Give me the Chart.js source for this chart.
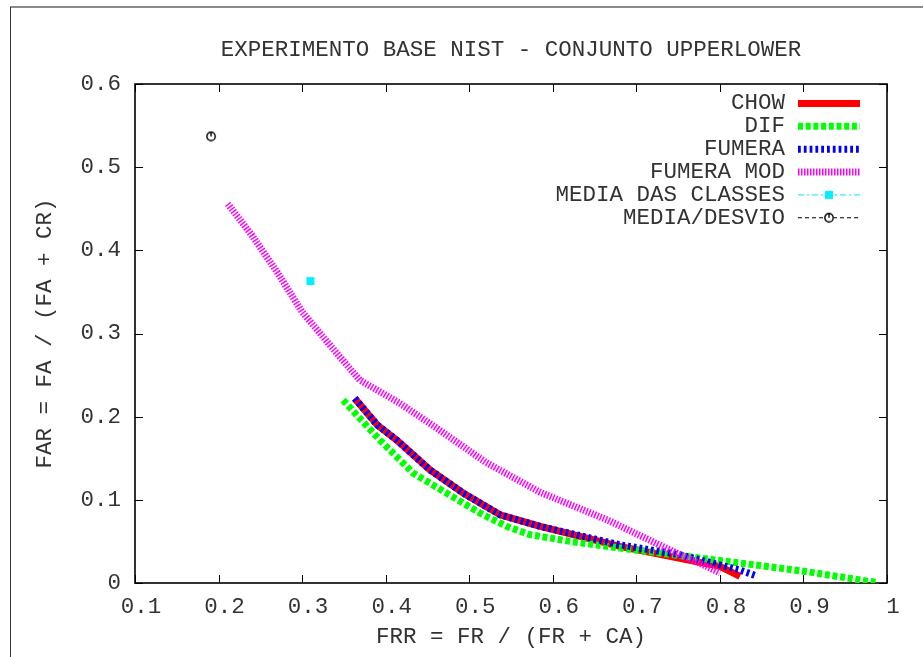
<!DOCTYPE html>
<html><head><meta charset="utf-8">
<script src="https://cdn.jsdelivr.net/npm/chart.js@4"></script>
<style>html,body{margin:0;padding:0;background:#fff}#wrap{width:923px;height:657px}</style>
</head><body><div id="wrap"><canvas id="c" width="923" height="657"></canvas></div>
<script>
// ---- text ----
const titleText = 'EXPERIMENTO BASE NIST - CONJUNTO UPPERLOWER';
const xAxisTitle = 'FRR = FR / (FR + CA)';
const yAxisTitle = 'FAR = FA / (FA + CR)';
const seriesNames = ['CHOW', 'DIF', 'FUMERA', 'FUMERA MOD', 'MEDIA DAS CLASSES', 'MEDIA/DESVIO'];
const xTickLabels = ['0.1', '0.2', '0.3', '0.4', '0.5', '0.6', '0.7', '0.8', '0.9', '1'];
const yTickLabels = ['0', '0.1', '0.2', '0.3', '0.4', '0.5', '0.6'];

// ---- data ----
const chowX = [0.363, 0.390, 0.413, 0.453, 0.493, 0.537, 0.585, 0.680, 0.800, 0.824];
const chowY = [0.222, 0.190, 0.172, 0.136, 0.108, 0.082, 0.068, 0.044, 0.020, 0.008];

const difX = [0.349, 0.393, 0.433, 0.473, 0.513, 0.545, 0.573, 0.621, 0.680, 0.760, 0.848, 0.904, 0.989];
const difY = [0.220, 0.172, 0.132, 0.108, 0.084, 0.068, 0.058, 0.050, 0.042, 0.032, 0.021, 0.0136, 0.0004];

const fumeraX = [0.363, 0.390, 0.413, 0.453, 0.493, 0.537, 0.585, 0.680, 0.752, 0.824, 0.845];
const fumeraY = [0.222, 0.190, 0.172, 0.136, 0.108, 0.082, 0.068, 0.046, 0.034, 0.0156, 0.008];

const fumeraModX = [0.211, 0.240, 0.270, 0.300, 0.335, 0.369, 0.417, 0.460, 0.520, 0.585, 0.665, 0.744, 0.784, 0.800];
const fumeraModY = [0.456, 0.418, 0.374, 0.326, 0.284, 0.244, 0.216, 0.187, 0.145, 0.109, 0.076, 0.038, 0.020, 0.012];

const mediaClassesX = [0.310];
const mediaClassesY = [0.363];

const mediaDesvioX = [0.191];
const mediaDesvioY = [0.537];

const zip = (xs, ys) => xs.map((x, i) => ({x: x, y: ys[i]}));

// custom marker: circle with a tick at the top
const circMark = document.createElement('canvas');
circMark.width = 14; circMark.height = 14;
(function(){
  const g = circMark.getContext('2d');
  g.strokeStyle = '#000'; g.lineWidth = 1.4;
  g.beginPath(); g.arc(7, 7, 4.2, 0, Math.PI * 2); g.stroke();
  g.beginPath(); g.moveTo(7, 7); g.lineTo(7, 2.8); g.stroke();
})();

const FONT = "'Liberation Mono', 'Courier New', monospace";
const FSIZE = 22.5;
const TXT = '#333';
Chart.defaults.font.family = FONT;
Chart.defaults.font.size = FSIZE;
Chart.defaults.color = TXT;

const lineBase = {showLine: true, pointRadius: 0, pointHoverRadius: 0, tension: 0, fill: false,
  borderCapStyle: 'butt', borderJoinStyle: 'round'};

const datasets = [
  Object.assign({}, lineBase, {label: seriesNames[0], data: zip(chowX, chowY),
    borderColor: '#ff0000', borderWidth: 7, borderDash: [], order: 10}),
  Object.assign({}, lineBase, {label: seriesNames[1], data: zip(difX, difY),
    borderColor: '#00ff00', borderWidth: 7, borderDash: [5, 2.7], order: 9}),
  Object.assign({}, lineBase, {label: seriesNames[2], data: zip(fumeraX, fumeraY),
    borderColor: '#0000ff', borderWidth: 7, borderDash: [2.8, 3], order: 8}),
  Object.assign({}, lineBase, {label: seriesNames[3], data: zip(fumeraModX, fumeraModY),
    borderColor: '#ff00ff', borderWidth: 7, borderDash: [1.5, 1.5], order: 7}),
  {label: seriesNames[4], data: zip(mediaClassesX, mediaClassesY), showLine: false,
    borderColor: '#00e8ff', borderWidth: 1, borderDash: [6, 3, 2, 3],
    pointStyle: 'rect', pointRadius: 5.6, pointHoverRadius: 5.6, pointBorderWidth: 0,
    pointBackgroundColor: '#00f0ff', backgroundColor: '#00f0ff', order: 6, legendMarker: 'rect'},
  {label: seriesNames[5], data: zip(mediaDesvioX, mediaDesvioY), showLine: false,
    borderColor: '#000000', borderWidth: 1, borderDash: [4, 3],
    pointStyle: circMark, pointRadius: 5, pointHoverRadius: 5, pointBorderWidth: 0,
    order: 5, legendMarker: 'circle'}
];

const framePlugin = {
  id: 'gnuFrame',
  beforeDraw(chart) {
    const ctx = chart.ctx;
    ctx.save();
    ctx.fillStyle = '#fff';
    ctx.fillRect(0, 0, chart.width, chart.height);
    ctx.strokeStyle = '#8a8a8a'; ctx.lineWidth = 2;
    ctx.beginPath(); ctx.moveTo(10, 7); ctx.lineTo(chart.width, 7); ctx.stroke();
    ctx.strokeStyle = '#333'; ctx.lineWidth = 1;
    ctx.beginPath(); ctx.moveTo(10.5, 7); ctx.lineTo(10.5, chart.height); ctx.stroke();
    ctx.restore();
  },
  beforeDatasetsDraw(chart) {
    const ctx = chart.ctx, a = chart.chartArea;
    const xs = chart.scales.x, ys = chart.scales.y;
    const TL = 8;
    ctx.save();
    ctx.strokeStyle = '#000'; ctx.lineWidth = 1;
    xs.ticks.forEach(t => {
      const px = Math.round(xs.getPixelForValue(t.value)) + 0.5;
      ctx.beginPath();
      ctx.moveTo(px, a.bottom); ctx.lineTo(px, a.bottom - TL);
      ctx.moveTo(px, a.top); ctx.lineTo(px, a.top + TL);
      ctx.stroke();
    });
    ys.ticks.forEach(t => {
      const py = Math.round(ys.getPixelForValue(t.value)) + 0.5;
      ctx.beginPath();
      ctx.moveTo(a.left, py); ctx.lineTo(a.left + TL, py);
      ctx.moveTo(a.right, py); ctx.lineTo(a.right - TL, py);
      ctx.stroke();
    });
    ctx.lineWidth = 1.6;
    ctx.strokeRect(a.left, a.top, a.right - a.left, a.bottom - a.top);
    ctx.restore();
  }
};

const legendPlugin = {
  id: 'gnuLegend',
  afterDatasetsDraw(chart) {
    const ctx = chart.ctx, a = chart.chartArea;
    const textRight = a.right - 102;
    const x0 = a.right - 89, x1 = a.right - 27;
    const y0 = a.top + 19.5, dy = 22.85;
    ctx.save();
    ctx.font = FSIZE + 'px ' + FONT;
    ctx.textAlign = 'right'; ctx.textBaseline = 'middle';
    chart.data.datasets.forEach((ds, i) => {
      const y = y0 + i * dy;
      ctx.fillStyle = TXT;
      ctx.fillText(ds.label, textRight, y);
      ctx.beginPath();
      ctx.setLineDash(ds.borderDash || []);
      ctx.lineWidth = ds.borderWidth;
      ctx.strokeStyle = ds.borderColor;
      ctx.lineCap = 'butt';
      ctx.moveTo(x0, y); ctx.lineTo(x1, y); ctx.stroke();
      ctx.setLineDash([]);
      const mx = (x0 + x1) / 2;
      if (ds.legendMarker === 'rect') {
        ctx.fillStyle = ds.pointBackgroundColor;
        ctx.fillRect(mx - 4, y - 4, 8, 8);
      } else if (ds.legendMarker === 'circle') {
        ctx.fillStyle = '#fff';
        ctx.fillRect(mx - 5, y - 5, 10, 10);
        ctx.drawImage(circMark, mx - 7, y - 7);
      }
    });
    ctx.restore();
  }
};

new Chart(document.getElementById('c'), {
  type: 'scatter',
  data: {datasets: datasets},
  options: {
    responsive: false,
    animation: false,
    events: [],
    layout: {padding: {left: 0, right: 36, top: 0, bottom: 0}},
    plugins: {
      legend: {display: false},
      tooltip: {enabled: false},
      title: {display: true, text: titleText, fullSize: false, color: TXT,
        font: {family: FONT, size: FSIZE, weight: 'normal', lineHeight: 1.2},
        padding: {top: 36.5, bottom: 20.5}}
    },
    scales: {
      x: {type: 'linear', min: 0.1, max: 1,
        ticks: {stepSize: 0.1, autoSkip: false, maxRotation: 0, padding: 10.5, labelOffset: 6, color: TXT,
          callback: (v) => xTickLabels[Math.round((v - 0.1) * 10)]},
        grid: {display: false, drawTicks: false},
        border: {display: false},
        title: {display: true, text: xAxisTitle, color: TXT, padding: {top: 0, bottom: 6.5},
          font: {family: FONT, size: FSIZE, lineHeight: 1.2}},
        afterFit(s) { s.height = 74; }
      },
      y: {type: 'linear', min: 0, max: 0.6,
        ticks: {stepSize: 0.1, autoSkip: false, padding: 14, color: TXT,
          callback: (v) => yTickLabels[Math.round(v * 10)]},
        grid: {display: false, drawTicks: false},
        border: {display: false},
        title: {display: true, text: yAxisTitle, color: TXT, padding: {top: 31.5, bottom: 0},
          font: {family: FONT, size: FSIZE, lineHeight: 1.2}},
        afterFit(s) { s.width = 135; }
      }
    }
  },
  plugins: [framePlugin, legendPlugin]
});
</script>
</body></html>
